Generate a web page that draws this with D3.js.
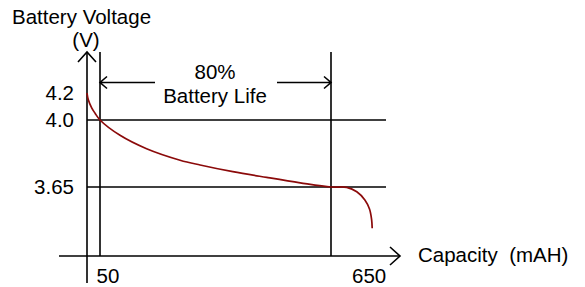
<!DOCTYPE html>
<html>
<head>
<meta charset="utf-8">
<script src="https://cdn.jsdelivr.net/npm/d3@7"></script>
<style>
  html, body { margin: 0; padding: 0; background: #fff; }
  svg text { font-family: "Liberation Sans", Arial, sans-serif; font-size: 20.5px; fill: #000; white-space: pre; }
</style>
</head>
<body>
<div id="chart"></div>
<script>
// discharge curve, capacity (mAH) vs voltage (V)
const capacity = [0, 5, 18, 31, 50, 102, 171, 258, 310, 395, 483, 570, 650, 691, 717, 738, 750, 755.5, 757];
const voltage = [4.2, 4.15, 4.09, 4.05, 4.0, 3.92, 3.85, 3.79, 3.765, 3.73, 3.70, 3.672, 3.65, 3.648, 3.625, 3.582, 3.535, 3.48, 3.434];

const xTicks = [50, 650];
const yTicks = [4.2, 4.0, 3.65];
const yTickLabels = ["4.2", "4.0", "3.65"];
const refVoltages = [4.0, 3.65];
const lifeMarkers = [50, 650];
const lifeLabel = ["80%", "Battery Life"];

const width = 585;
const height = 287;

// the drawing is schematic, so both scales are piecewise
const x = d3.scaleLinear().domain([0, 50, 650]).range([87, 100, 331]);
const y = d3.scaleLinear().domain([4.2, 4.0, 3.65]).range([93, 120, 187]);

const frame = { top: 52, xAxisY: 256, xAxisLeft: 59, xAxisRight: 400, yAxisBottom: 283, refRight: 386 };
const ink = "#000";
const lw = 1.6;

const svg = d3.select("#chart")
    .append("svg")
    .attr("width", width)
    .attr("height", height);

const x0 = x(0);

// y axis with arrow
svg.append("line")
    .attr("x1", x0).attr("x2", x0)
    .attr("y1", frame.top).attr("y2", frame.yAxisBottom)
    .attr("stroke", ink).attr("stroke-width", lw);
svg.append("path")
    .attr("d", `M${x0 - 9},${frame.top + 10}L${x0},${frame.top}L${x0 + 9},${frame.top + 10}`)
    .attr("fill", "none").attr("stroke", ink).attr("stroke-width", lw);

// x axis with arrow
svg.append("line")
    .attr("x1", frame.xAxisLeft).attr("x2", frame.xAxisRight)
    .attr("y1", frame.xAxisY).attr("y2", frame.xAxisY)
    .attr("stroke", ink).attr("stroke-width", lw);
svg.append("path")
    .attr("d", `M${frame.xAxisRight - 10},${frame.xAxisY - 9}L${frame.xAxisRight},${frame.xAxisY}L${frame.xAxisRight - 10},${frame.xAxisY + 9}`)
    .attr("fill", "none").attr("stroke", ink).attr("stroke-width", lw);

// horizontal reference lines
svg.selectAll(".href")
    .data(refVoltages)
    .join("line")
    .attr("x1", x0).attr("x2", frame.refRight)
    .attr("y1", d => y(d)).attr("y2", d => y(d))
    .attr("stroke", ink).attr("stroke-width", lw);

// vertical markers at 50 and 650
svg.selectAll(".vref")
    .data(lifeMarkers)
    .join("line")
    .attr("x1", d => x(d)).attr("x2", d => x(d))
    .attr("y1", frame.top).attr("y2", frame.xAxisY)
    .attr("stroke", ink).attr("stroke-width", lw);

// 80% battery life arrows
const arrowY = 82.5;
const xa = x(lifeMarkers[0]), xb = x(lifeMarkers[1]);
svg.append("path")
    .attr("d", `M155,${arrowY}L${xa},${arrowY}M${xa + 7},${arrowY - 6}L${xa},${arrowY}L${xa + 7},${arrowY + 6}`)
    .attr("fill", "none").attr("stroke", ink).attr("stroke-width", lw);
svg.append("path")
    .attr("d", `M277,${arrowY}L${xb},${arrowY}M${xb - 7},${arrowY - 6}L${xb},${arrowY}L${xb - 7},${arrowY + 6}`)
    .attr("fill", "none").attr("stroke", ink).attr("stroke-width", lw);

svg.selectAll(".life")
    .data(lifeLabel)
    .join("text")
    .attr("x", 215)
    .attr("y", (d, i) => 78.5 + i * 24)
    .attr("text-anchor", "middle")
    .text(d => d);

// discharge curve
const pts = capacity.map((c, i) => ({ c, v: voltage[i] }));
const line = d3.line()
    .x(d => x(d.c))
    .y(d => y(d.v))
    .curve(d3.curveCatmullRom.alpha(0.5));

svg.append("path")
    .datum(pts)
    .attr("d", line)
    .attr("fill", "none")
    .attr("stroke", "#8b0a0a")
    .attr("stroke-width", 1.7);

// tick labels
svg.selectAll(".ylab")
    .data(yTicks)
    .join("text")
    .attr("x", 74)
    .attr("y", d => y(d) + 7)
    .attr("text-anchor", "end")
    .text((d, i) => yTickLabels[i]);

svg.selectAll(".xlab")
    .data(xTicks)
    .join("text")
    .attr("x", d => x(d) + 8)
    .attr("y", 283)
    .attr("text-anchor", (d, i) => i === 0 ? "middle" : "start")
    .attr("dx", (d, i) => i === 0 ? 0 : 13)
    .text(d => d);

// axis titles
svg.append("text").attr("x", 12).attr("y", 23.5).text("Battery Voltage");
svg.append("text").attr("x", x0 - 1).attr("y", 47).attr("text-anchor", "middle").text("(V)");
svg.append("text").attr("x", 418).attr("y", 262).text("Capacity  (mAH)");
</script>
</body>
</html>
